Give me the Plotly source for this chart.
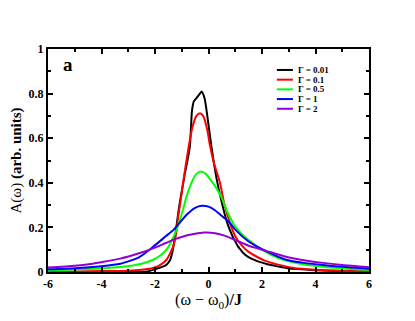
import plotly.graph_objects as go

# ── data ──────────────────────────────────────────────────────────────────────
series_names = ["Γ = 0.01", "Γ = 0.1", "Γ = 0.5", "Γ = 1", "Γ = 2"]
series_colors = ["#000000", "#ff0000", "#00ff00", "#0000ff", "#9400d3"]

x_g001 = [-6, -3, -2.3, -2.0, -1.8, -1.6, -1.45, -1.35, -1.25, -1.1, -0.9, -0.7,
          -0.62, -0.55, -0.45, -0.35, -0.26, -0.15, 0.0, 0.1, 0.3, 0.5, 0.7, 0.9,
          1.0, 1.1, 1.2, 1.3, 1.45, 1.6, 1.8, 2.0, 2.2, 2.4, 2.7, 3.0, 3.5, 4.0,
          5.0, 6.0]
y_g001 = [0.0, 0.0, 0.002, 0.012, 0.02, 0.03, 0.05, 0.09, 0.16, 0.29, 0.43, 0.56,
          0.72, 0.765, 0.78, 0.795, 0.809, 0.78, 0.66, 0.57, 0.42, 0.31, 0.22, 0.16,
          0.137, 0.115, 0.10, 0.085, 0.07, 0.06, 0.05, 0.042, 0.035, 0.03, 0.022,
          0.016, 0.012, 0.008, 0.004, 0.002]

x_g01 = [-6, -5, -4, -3, -2.5, -2.07, -1.8, -1.57, -1.45, -1.32, -1.2, -1.13, -1.03,
         -0.95, -0.85, -0.76, -0.6, -0.45, -0.32, -0.2, -0.05, 0.05, 0.2, 0.43, 0.6,
         0.8, 1.0, 1.2, 1.5, 2.1, 2.6, 3.2, 4, 5, 6]
y_g01 = [0.001, 0.002, 0.004, 0.006, 0.01, 0.018, 0.032, 0.055, 0.08, 0.115, 0.18,
         0.25, 0.33, 0.40, 0.48, 0.548, 0.65, 0.70, 0.712, 0.70, 0.64, 0.57, 0.49,
         0.40, 0.30, 0.22, 0.16, 0.125, 0.09, 0.051, 0.033, 0.018, 0.01, 0.005, 0.002]

x_g05 = [-6, -5, -4, -3.3, -2.5, -2.07, -1.8, -1.57, -1.3, -1.13, -0.95, -0.82, -0.6,
         -0.45, -0.28, -0.1, 0.1, 0.3, 0.5, 0.7, 1.0, 1.25, 1.5, 2.1, 2.6, 3.2, 4, 5, 6]
y_g05 = [0.007, 0.011, 0.016, 0.022, 0.037, 0.055, 0.074, 0.10, 0.16, 0.212, 0.28,
         0.339, 0.41, 0.44, 0.451, 0.44, 0.41, 0.375, 0.33, 0.27, 0.204, 0.17, 0.143,
         0.092, 0.063, 0.043, 0.027, 0.016, 0.01]

x_g1 = [-6, -5, -4, -3.3, -2.6, -2.07, -1.6, -1.3, -0.82, -0.5, -0.25, 0, 0.24, 0.43,
        0.8, 1.0, 1.5, 2.1, 2.9, 3.5, 4.2, 5, 6]
y_g1 = [0.012, 0.017, 0.026, 0.037, 0.066, 0.113, 0.16, 0.19, 0.257, 0.288, 0.297,
        0.293, 0.277, 0.258, 0.22, 0.19, 0.137, 0.097, 0.055, 0.042, 0.032, 0.023, 0.015]

x_g2 = [-6, -5, -4.4, -4, -3.3, -2.6, -2.07, -1.6, -1.3, -0.7, -0.15, 0.25, 0.6, 1.0,
        1.5, 2.1, 2.9, 3.5, 4.2, 5, 6]
y_g2 = [0.020, 0.028, 0.036, 0.044, 0.060, 0.084, 0.106, 0.130, 0.145, 0.167, 0.177,
        0.174, 0.163, 0.143, 0.118, 0.097, 0.068, 0.054, 0.042, 0.031, 0.021]

series_x = [x_g001, x_g01, x_g05, x_g1, x_g2]
series_y = [y_g001, y_g01, y_g05, y_g1, y_g2]

x_tick_vals = [-6, -4, -2, 0, 2, 4, 6]
x_tick_labels = ["-6", "-4", "-2", "0", "2", "4", "6"]
y_tick_vals = [0, 0.2, 0.4, 0.6, 0.8, 1]
y_tick_labels = ["0", "0.2", "0.4", "0.6", "0.8", "1"]

_FONT = "Liberation Serif"

fig = go.Figure()
for xs, ys, name, color in zip(series_x, series_y, series_names, series_colors):
    fig.add_trace(go.Scatter(
        x=xs, y=ys, mode="lines", name=name,
        line=dict(color=color, width=2, shape="spline", smoothing=0.6),
        showlegend=False,
    ))

# hand-built legend (plotly's own legend rows are too tall for this spacing)
for i, (name, color) in enumerate(zip(series_names, series_colors)):
    yp = 0.906 - i * 0.0435
    fig.add_shape(type="line", xref="paper", yref="paper",
                  x0=0.713, x1=0.763, y0=yp, y1=yp,
                  line=dict(color=color, width=2))
    fig.add_annotation(xref="paper", yref="paper", x=0.772, y=yp,
                       xanchor="left", yanchor="middle", showarrow=False,
                       text=name, font=dict(family=_FONT, size=9, color="black",
                                            weight="bold"))

fig.add_annotation(xref="paper", yref="paper", x=0.061, y=0.93,
                   xanchor="center", yanchor="middle", showarrow=False,
                   text="<b>a</b>", font=dict(family=_FONT, size=19, color="black"))

_axis = dict(
    showline=True, linecolor="black", linewidth=2, mirror="allticks",
    ticks="inside", ticklen=5, tickwidth=1.5, tickcolor="black",
    showgrid=False, zeroline=False, automargin=False,
    tickfont=dict(family=_FONT, size=12, color="black", weight="bold"),
)

# the page adds an 8px body margin, so the figure is a little smaller
fig.update_layout(
    width=407, height=313,
    margin=dict(l=40, r=46, t=41, b=49),
    paper_bgcolor="white", plot_bgcolor="white",
    font=dict(family=_FONT, color="black"),
    xaxis=dict(
        _axis, range=[-6, 6], tickmode="array",
        tickvals=x_tick_vals, ticktext=x_tick_labels,
        minor=dict(dtick=1, tick0=0, ticks="inside", ticklen=3, tickcolor="black",
                   tickwidth=1.5),
        title=dict(text="(ω − ω<sub>0</sub>)<b>/J</b>", standoff=2,
                   font=dict(family=_FONT, size=16, color="black")),
    ),
    yaxis=dict(
        _axis, range=[0, 1], tickmode="array",
        tickvals=y_tick_vals, ticktext=y_tick_labels,
        minor=dict(dtick=0.1, tick0=0, ticks="inside", ticklen=3, tickcolor="black",
                   tickwidth=1.5),
        title=dict(text="A(ω) <b>(arb. units)</b>", standoff=4,
                   font=dict(family=_FONT, size=15, color="black")),
    ),
)

fig.write_html("out.html")
